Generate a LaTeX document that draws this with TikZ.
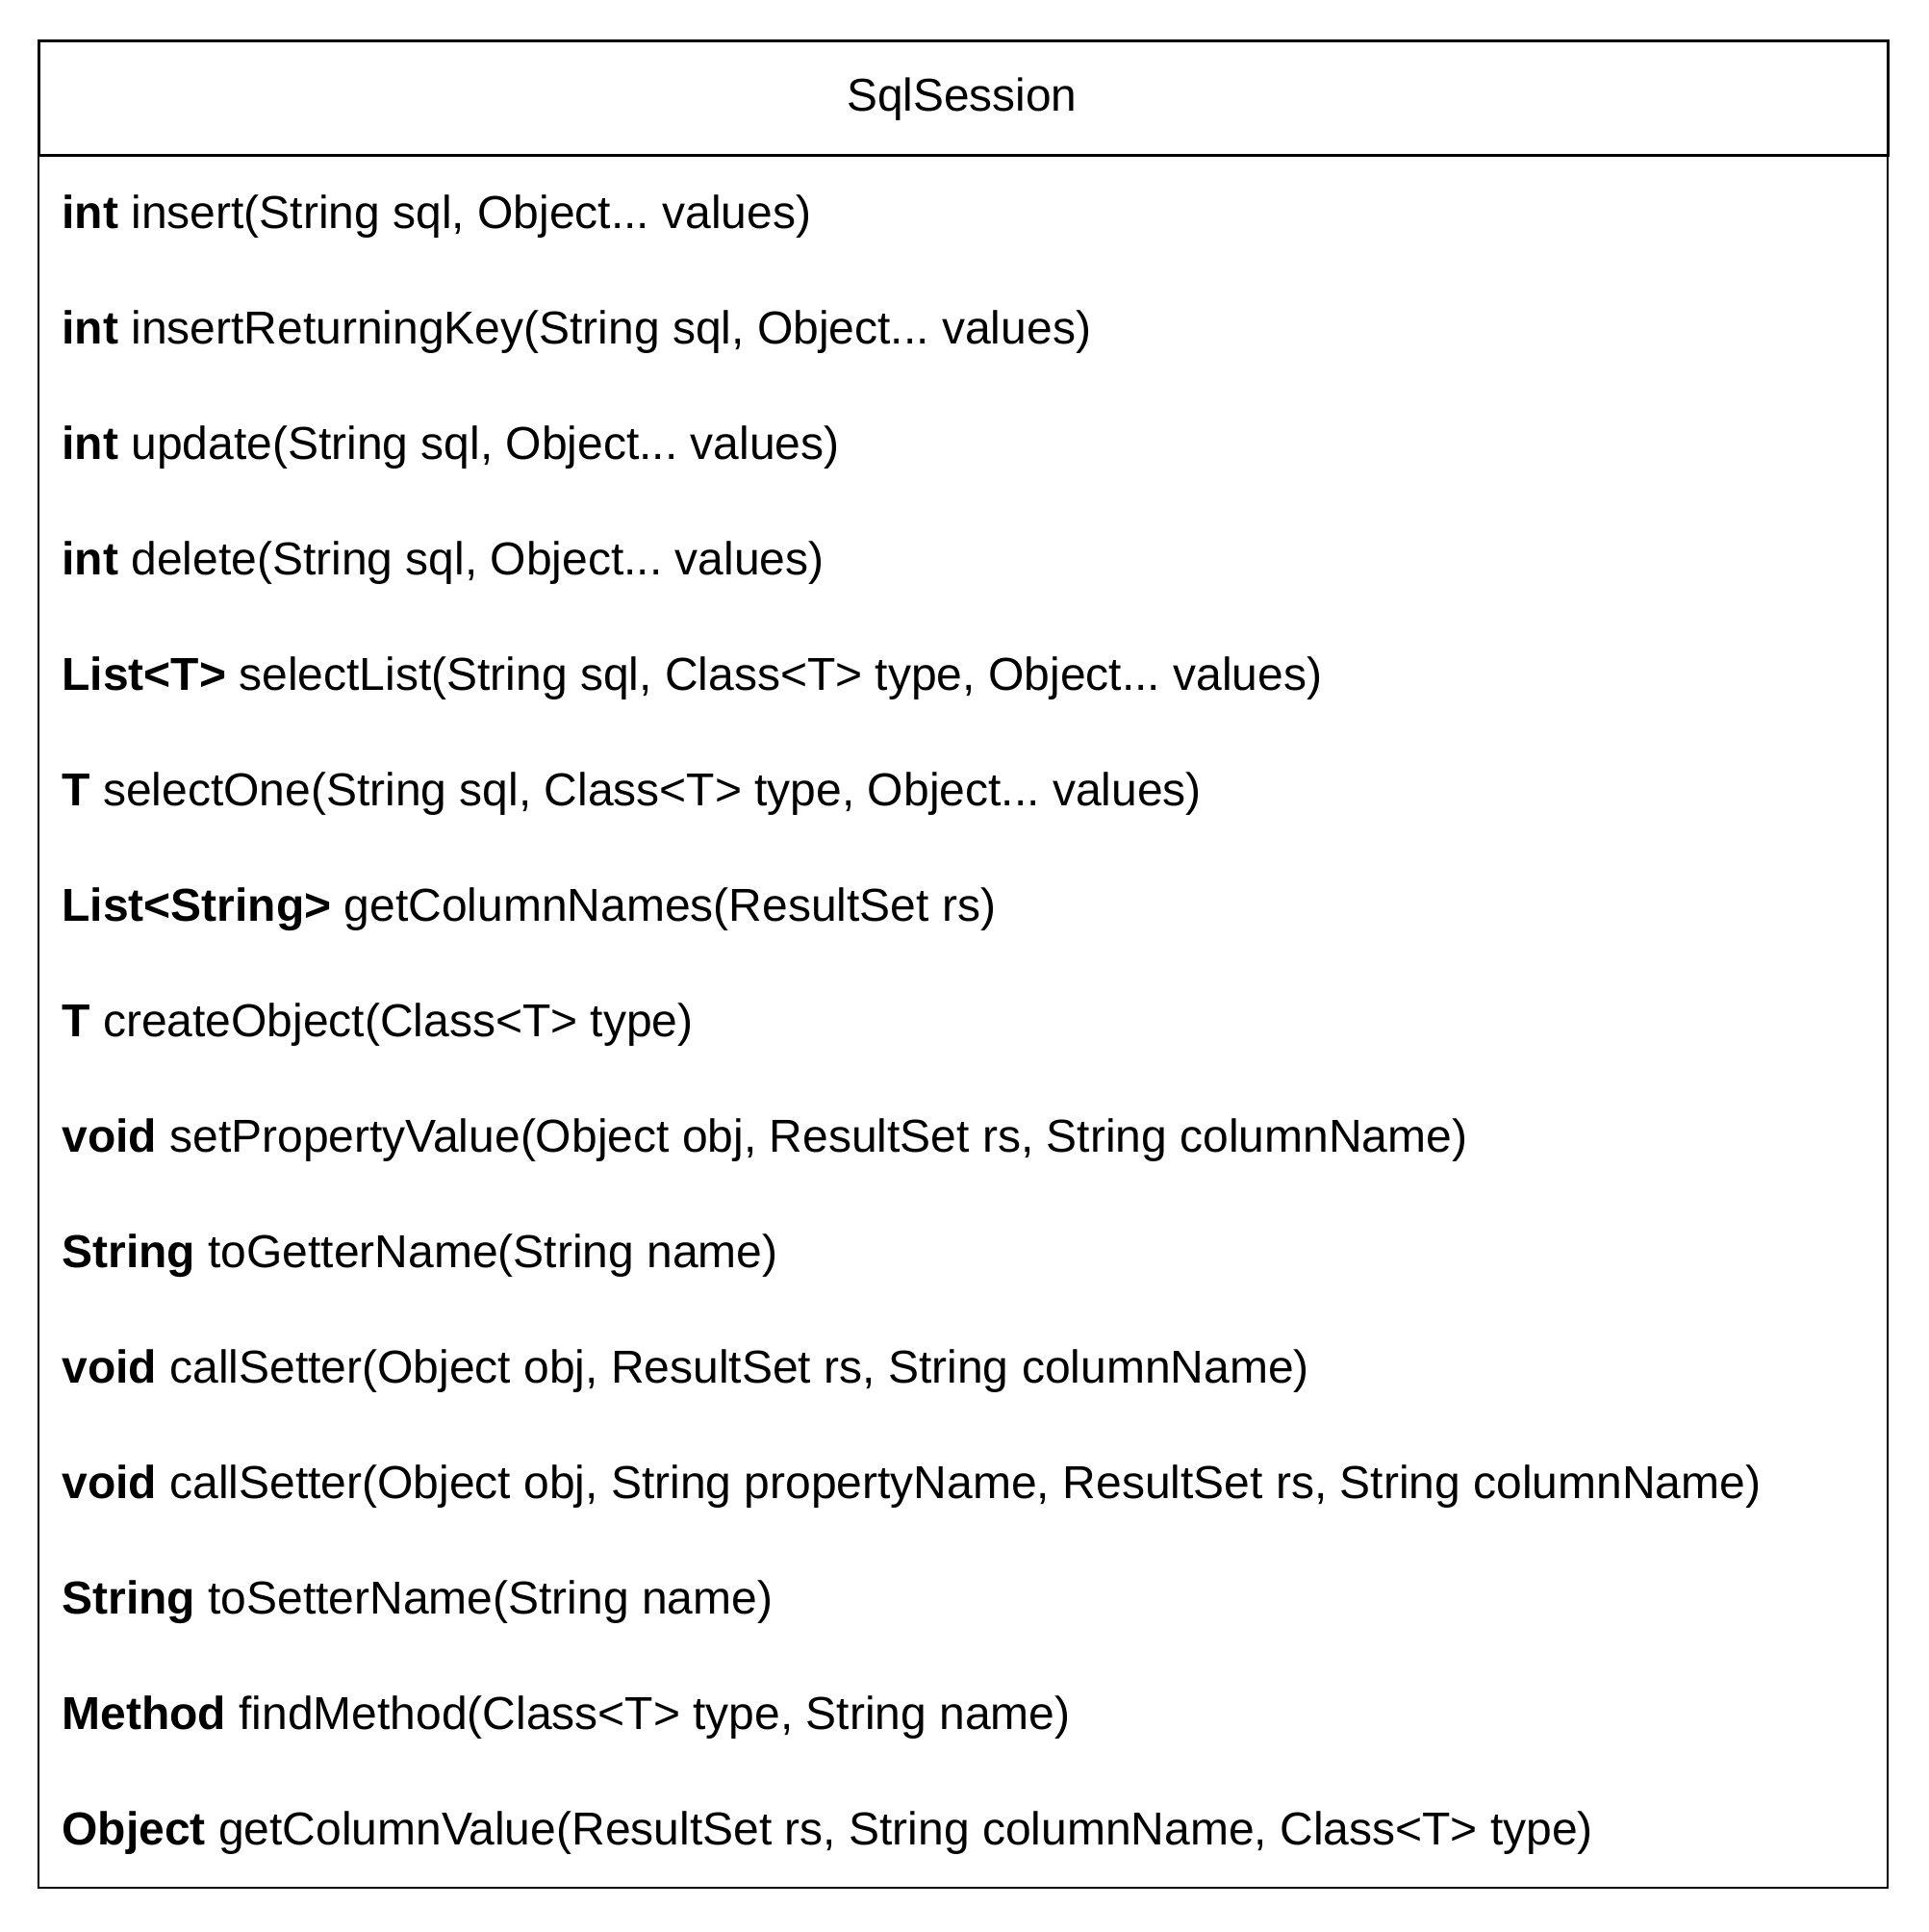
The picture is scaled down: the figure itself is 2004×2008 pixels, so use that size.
\documentclass[tikz,border=0pt]{standalone}
\usepackage{fontspec}
\setmainfont{Liberation Sans}
\frenchspacing
\begin{document}
\begin{tikzpicture}[x=0.5pt, y=-0.5pt]
\useasboundingbox (0,0) rectangle (2004,2008);
\tikzset{classbox/.style={draw, line width=1.5pt}}
\tikzset{bodybox/.style={draw, line width=1.1pt}}
\tikzset{every node/.style={inner sep=0pt, anchor=base west, font=\fontsize{24}{28}\selectfont}}

\draw[bodybox] (40,161) rectangle (1962,1962);
\draw[classbox] (40,42) rectangle (1962,161);

\node[anchor=base, font=\fontsize{23.9}{26}\selectfont] (title) at (1000,115) {SqlSession};

\node (m1) at (64,237) {\textbf{int} insert(String sql, Object... values)};
\node (m2) at (64,357) {\textbf{int} insertReturningKey(String sql, Object... values)};
\node (m3) at (64,477) {\textbf{int} update(String sql, Object... values)};
\node (m4) at (64,597) {\textbf{int} delete(String sql, Object... values)};
\node (m5) at (64,717) {\textbf{List<T>} selectList(String sql, Class<T> type, Object... values)};
\node (m6) at (64,837) {\textbf{T} selectOne(String sql, Class<T> type, Object... values)};
\node (m7) at (64,957) {\textbf{List<String>} getColumnNames(ResultSet rs)};
\node (m8) at (64,1077) {\textbf{T} createObject(Class<T> type)};
\node (m9) at (64,1197) {\textbf{void} setPropertyValue(Object obj, ResultSet rs, String columnName)};
\node (m10) at (64,1317) {\textbf{String} toGetterName(String name)};
\node (m11) at (64,1437) {\textbf{void} callSetter(Object obj, ResultSet rs, String columnName)};
\node (m12) at (64,1557) {\textbf{void} callSetter(Object obj, String propertyName, ResultSet rs, String columnName)};
\node (m13) at (64,1677) {\textbf{String} toSetterName(String name)};
\node (m14) at (64,1797) {\textbf{Method} findMethod(Class<T> type, String name)};
\node (m15) at (64,1917) {\textbf{Object} getColumnValue(ResultSet rs, String columnName, Class<T> type)};

\end{tikzpicture}
\end{document}
